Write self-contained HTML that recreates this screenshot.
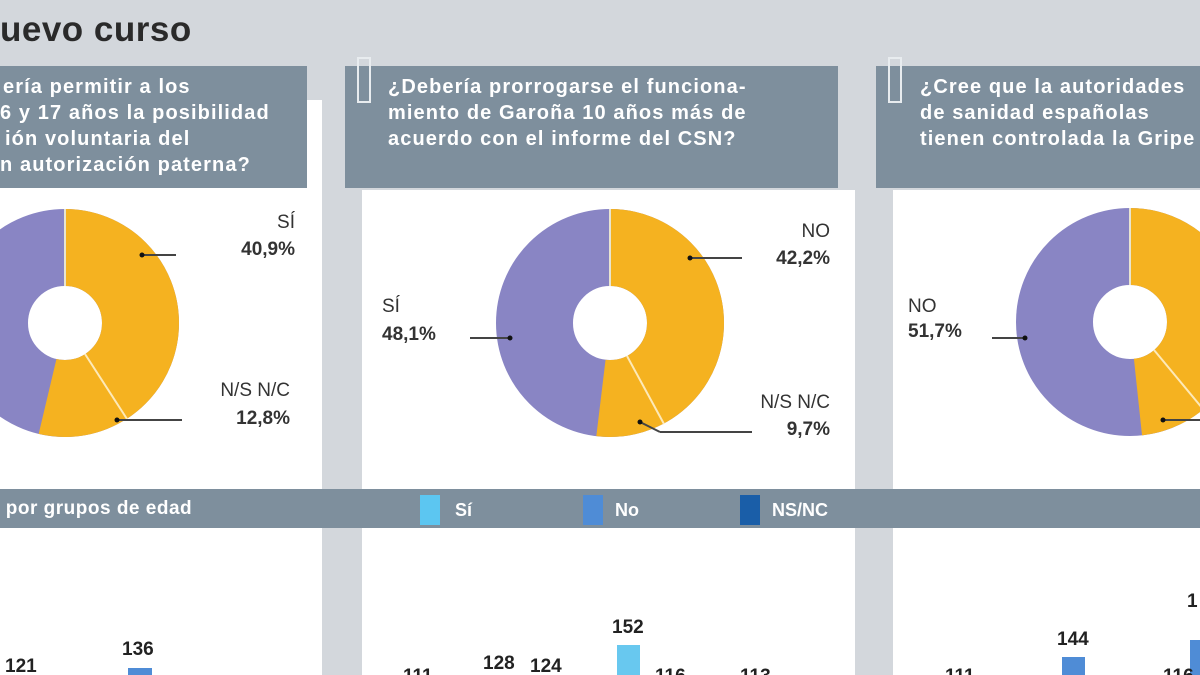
<!DOCTYPE html><html><head><meta charset="utf-8"><style>
html,body{margin:0;padding:0}
body{width:1200px;height:675px;overflow:hidden;background:#d3d7dc;position:relative;font-family:"Liberation Sans",sans-serif}
.a{position:absolute}
.hd{background:#7e8f9d;color:#fff;font-weight:bold;font-size:20px;line-height:26px;letter-spacing:1.1px}
</style></head><body>
<div class="a" style="left:0;top:100px;width:322px;height:575px;background:#fff"></div>
<div class="a" style="left:362px;top:190px;width:493px;height:485px;background:#fff"></div>
<div class="a" style="left:893px;top:190px;width:307px;height:485px;background:#fff"></div>
<div class="a" style="left:0;top:10px;font-size:35px;font-weight:bold;color:#2a2a2a;letter-spacing:0.5px">uevo curso</div>
<div class="a hd" style="left:0;top:66px;width:307px;height:122px;padding:8px 0 0 0;box-sizing:border-box;white-space:nowrap;overflow:hidden"><div style="padding-left:3px">ería permitir a los</div><div>6 y 17 años la posibilidad</div><div style="padding-left:5px">ión voluntaria del</div><div>n autorización paterna?</div></div>
<div class="a hd" style="left:345px;top:66px;width:493px;height:122px;padding:8px 0 0 43px;box-sizing:border-box;white-space:nowrap">¿Debería prorrogarse el funciona-<br>miento de Garoña 10 años más de<br>acuerdo con el informe del CSN?</div>
<div class="a hd" style="left:876px;top:66px;width:324px;height:122px;padding:8px 0 0 44px;box-sizing:border-box;white-space:nowrap;overflow:hidden">¿Cree que la autoridades<br>de sanidad españolas<br>tienen controlada la Gripe</div>
<div class="a" style="left:357px;top:57px;width:10px;height:42px;border:2px solid #e8ecef"></div>
<div class="a" style="left:888px;top:57px;width:10px;height:42px;border:2px solid #e8ecef"></div>
<div class="a hd" style="left:0;top:489px;width:1200px;height:39px;font-size:19px;line-height:39px;letter-spacing:0.5px">&nbsp;por grupos de edad</div>
<div class="a" style="left:420px;top:495px;width:20px;height:30px;background:#5cc6f1"></div>
<div class="a" style="left:455px;top:500px;color:#fff;font-weight:bold;font-size:18px">Sí</div>
<div class="a" style="left:583px;top:495px;width:20px;height:30px;background:#4f8cd6"></div>
<div class="a" style="left:615px;top:500px;color:#fff;font-weight:bold;font-size:18px">No</div>
<div class="a" style="left:740px;top:495px;width:20px;height:30px;background:#1a5ea8"></div>
<div class="a" style="left:772px;top:500px;color:#fff;font-weight:bold;font-size:18px">NS/NC</div>
<svg class="a" style="left:0;top:0" width="1200" height="675" font-family="Liberation Sans, sans-serif">
<g fill="none" stroke-width="77">
<circle cx="65" cy="323" r="75.5" stroke="#8985c4"/>
<circle cx="65" cy="323" r="75.5" stroke="#f5b220" stroke-dasharray="254.7 474.4" transform="rotate(-90 65 323)"/>
<circle cx="610" cy="323" r="75.5" stroke="#8985c4"/>
<circle cx="610" cy="323" r="75.5" stroke="#f5b220" stroke-dasharray="246.2 474.4" transform="rotate(-90 610 323)"/>
<circle cx="1130" cy="322" r="75.5" stroke="#8985c4"/>
<circle cx="1130" cy="322" r="75.5" stroke="#f5b220" stroke-dasharray="229.1 474.4" transform="rotate(-90 1130 322)"/>
</g>
<g stroke="#fde9b8" stroke-width="2">
<line x1="85" y1="354" x2="127" y2="419"/><line x1="627" y1="356" x2="664" y2="424"/><line x1="1154" y1="350" x2="1203" y2="409"/>
<line x1="65" y1="209" x2="65" y2="286" stroke="#e8e4d0"/><line x1="610" y1="209" x2="610" y2="286" stroke="#e8e4d0"/><line x1="1130" y1="208" x2="1130" y2="285" stroke="#e8e4d0"/>
</g>
<g stroke="#444" stroke-width="2">
<line x1="142" y1="255" x2="176" y2="255"/><line x1="117" y1="420" x2="182" y2="420"/>
<line x1="690" y1="258" x2="742" y2="258"/><line x1="470" y1="338" x2="510" y2="338"/><line x1="640" y1="422" x2="660" y2="432"/><line x1="660" y1="432" x2="752" y2="432"/>
<line x1="992" y1="338" x2="1025" y2="338"/><line x1="1163" y1="420" x2="1200" y2="420"/>
</g>
<g fill="#111"><circle cx="142" cy="255" r="2.5"/><circle cx="117" cy="420" r="2.5"/><circle cx="690" cy="258" r="2.5"/><circle cx="510" cy="338" r="2.5"/><circle cx="640" cy="422" r="2.5"/><circle cx="1025" cy="338" r="2.5"/><circle cx="1163" cy="420" r="2.5"/></g>
<g font-size="19" fill="#333">
<text x="295" y="228" text-anchor="end">SÍ</text><text x="295" y="255" text-anchor="end" font-weight="bold">40,9%</text>
<text x="290" y="396" text-anchor="end">N/S N/C</text><text x="290" y="424" text-anchor="end" font-weight="bold">12,8%</text>
<text x="830" y="237" text-anchor="end">NO</text><text x="830" y="264" text-anchor="end" font-weight="bold">42,2%</text>
<text x="382" y="312">SÍ</text><text x="382" y="340" font-weight="bold">48,1%</text>
<text x="830" y="408" text-anchor="end">N/S N/C</text><text x="830" y="435" text-anchor="end" font-weight="bold">9,7%</text>
<text x="908" y="312">NO</text><text x="908" y="337" font-weight="bold">51,7%</text>
</g>
<rect x="128" y="668" width="24" height="10" fill="#4f8cd6"/>
<rect x="617" y="645" width="23" height="35" fill="#68c8ef"/>
<rect x="1062" y="657" width="23" height="20" fill="#4f8cd6"/>
<rect x="1190" y="640" width="12" height="40" fill="#4f8cd6"/>
<g font-size="19" font-weight="bold" fill="#222">
<text x="5" y="672">121</text><text x="122" y="655">136</text>
<text x="403" y="682">111</text><text x="483" y="669">128</text><text x="530" y="672">124</text><text x="612" y="633">152</text><text x="655" y="682">116</text><text x="740" y="682">113</text>
<text x="945" y="682">111</text><text x="1057" y="645">144</text><text x="1163" y="682">116</text><text x="1187" y="607">1</text>
</g>
</svg>
</body></html>
